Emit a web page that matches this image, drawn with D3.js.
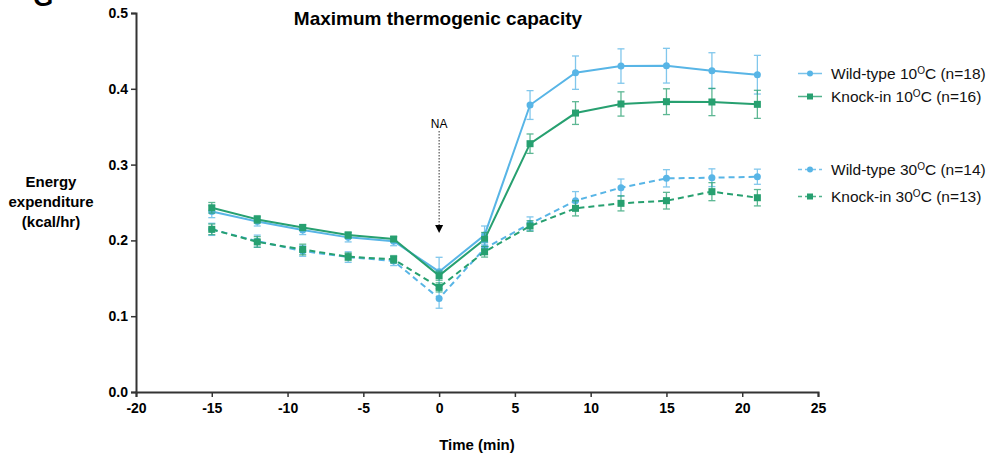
<!DOCTYPE html>
<html>
<head>
<meta charset="utf-8">
<script src="https://cdn.jsdelivr.net/npm/d3@7"></script>
<style>
  body { margin: 0; background: #fff; }
  svg text { font-family: "Liberation Sans", Arial, sans-serif; }
</style>
</head>
<body>
<svg id="chart" width="989" height="460"></svg>
<script>
// time points (min)
const times = [-15, -12, -9, -6, -3, 0, 3, 6, 9, 12, 15, 18, 21];

// mean energy expenditure (kcal/hr)
const wt10 = [0.238, 0.225, 0.2137, 0.204, 0.199, 0.1587, 0.207, 0.3786, 0.4213, 0.430, 0.4305, 0.4239, 0.4186];
const ki10 = [0.243, 0.2277, 0.217, 0.207, 0.2018, 0.1535, 0.2014, 0.3276, 0.368, 0.380, 0.383, 0.3826, 0.3795];
const wt30 = [0.2146, 0.199, 0.186, 0.178, 0.1728, 0.1235, 0.1895, 0.222, 0.2524, 0.2696, 0.2819, 0.2827, 0.284];
const ki30 = [0.2146, 0.198, 0.188, 0.1785, 0.175, 0.138, 0.185, 0.219, 0.2423, 0.2489, 0.2524, 0.2643, 0.2563];

// SEM
const wt10Err = [0.008, 0.006, 0.006, 0.006, 0.006, 0.019, 0.012, 0.019, 0.022, 0.0227, 0.0229, 0.0237, 0.0255];
const ki10Err = [0.007, 0.005, 0.004, 0.004, 0.003, 0.006, 0.009, 0.0128, 0.015, 0.016, 0.017, 0.018, 0.0185];
const wt30Err = [0.008, 0.008, 0.007, 0.007, 0.006, 0.013, 0.008, 0.009, 0.012, 0.0114, 0.0114, 0.0117, 0.010];
const ki30Err = [0.007, 0.007, 0.007, 0.005, 0.005, 0.006, 0.007, 0.007, 0.010, 0.010, 0.011, 0.0119, 0.0108];

const xTicks = [-20, -15, -10, -5, 0, 5, 10, 15, 20, 25];
const yTicks = [0.0, 0.1, 0.2, 0.3, 0.4, 0.5];

const blue = "#58b5e6";
const green = "#27a070";

const series = [
  { name: "Wild-type 10", n: 18, values: wt10, err: wt10Err, color: blue, shape: "circle", dashed: false },
  { name: "Knock-in 10", n: 16, values: ki10, err: ki10Err, color: green, shape: "square", dashed: false },
  { name: "Wild-type 30", n: 14, values: wt30, err: wt30Err, color: blue, shape: "circle", dashed: true },
  { name: "Knock-in 30", n: 13, values: ki30, err: ki30Err, color: green, shape: "square", dashed: true }
];

const svg = d3.select("#chart");
const margin = { top: 13, right: 171, bottom: 68, left: 136 };
const width = 989 - margin.left - margin.right;
const height = 460 - margin.top - margin.bottom;

const x = d3.scaleLinear().domain([-20, 25]).range([0, width]);
const y = d3.scaleLinear().domain([0, 0.5]).range([height, 0]);

const g = svg.append("g").attr("transform", `translate(${margin.left},${margin.top})`);

// partial panel letter, cut off at the top like in the figure
svg.append("text")
  .attr("x", 33).attr("y", 6)
  .attr("font-size", 26).attr("font-weight", "bold")
  .text("G");

// title
svg.append("text")
  .attr("x", 438).attr("y", 25)
  .attr("text-anchor", "middle")
  .attr("font-size", 19).attr("font-weight", "bold")
  .text("Maximum thermogenic capacity");

// axes
const xAxis = g.append("g")
  .attr("transform", `translate(0,${height})`)
  .call(d3.axisBottom(x).tickValues(xTicks).tickSize(5).tickPadding(6).tickFormat(d => String(d)));
const yAxis = g.append("g")
  .call(d3.axisLeft(y).tickValues(yTicks).tickSize(5).tickPadding(3).tickFormat(d => d.toFixed(1)));

[xAxis, yAxis].forEach(a => {
  a.select(".domain").attr("stroke", "#333").attr("stroke-width", 2);
  a.selectAll(".tick line").attr("stroke", "#333").attr("stroke-width", 1.5);
  a.selectAll(".tick text")
    .attr("fill", "#000")
    .attr("font-size", 14)
    .attr("font-weight", "bold")
    .attr("font-family", "Liberation Sans, Arial, sans-serif");
});

// axis titles
svg.append("text")
  .attr("x", 477).attr("y", 450)
  .attr("text-anchor", "middle")
  .attr("font-size", 15).attr("font-weight", "bold")
  .text("Time (min)");

const yLab = svg.append("text")
  .attr("text-anchor", "middle")
  .attr("font-size", 15).attr("font-weight", "bold");
["Energy", "expenditure", "(kcal/hr)"].forEach((t, i) => {
  yLab.append("tspan").attr("x", 51).attr("y", 187 + i * 20).text(t);
});

// NA arrow
g.append("text")
  .attr("x", x(0)).attr("y", 128 - margin.top)
  .attr("text-anchor", "middle")
  .attr("font-size", 12)
  .text("NA");
g.append("line")
  .attr("x1", x(0)).attr("x2", x(0))
  .attr("y1", 131 - margin.top).attr("y2", 226 - margin.top)
  .attr("stroke", "#333").attr("stroke-width", 1)
  .attr("stroke-dasharray", "1.5,1.5");
g.append("path")
  .attr("d", `M${x(0) - 4},${225 - margin.top} L${x(0) + 4},${225 - margin.top} L${x(0)},${233 - margin.top} Z`)
  .attr("fill", "#000");

const line = d3.line()
  .x((d, i) => x(times[i]))
  .y(d => y(d));

function drawMarker(sel, s, cx, cy, size) {
  if (s.shape === "circle") {
    sel.append("circle").attr("cx", cx).attr("cy", cy).attr("r", size / 2).attr("fill", s.color);
  } else {
    sel.append("rect")
      .attr("x", cx - size / 2).attr("y", cy - size / 2)
      .attr("width", size).attr("height", size)
      .attr("fill", s.color);
  }
}

series.forEach(s => {
  const sg = g.append("g");
  // error bars
  s.values.forEach((v, i) => {
    const cx = x(times[i]);
    const lo = y(v - s.err[i]), hi = y(v + s.err[i]);
    const eb = sg.append("g").attr("stroke", s.color).attr("stroke-width", 1.3).attr("opacity", 0.75);
    eb.append("line").attr("x1", cx).attr("x2", cx).attr("y1", lo).attr("y2", hi);
    eb.append("line").attr("x1", cx - 3.5).attr("x2", cx + 3.5).attr("y1", lo).attr("y2", lo);
    eb.append("line").attr("x1", cx - 3.5).attr("x2", cx + 3.5).attr("y1", hi).attr("y2", hi);
  });
  sg.append("path")
    .datum(s.values)
    .attr("d", line)
    .attr("fill", "none")
    .attr("stroke", s.color)
    .attr("stroke-width", 2)
    .attr("stroke-dasharray", s.dashed ? "6,4" : null);
  s.values.forEach((v, i) => drawMarker(sg, s, x(times[i]), y(v), 7));
});

// legend
const legendY = [73.5, 96.5, 169.5, 196.5];
series.forEach((s, i) => {
  const lg = svg.append("g").attr("transform", `translate(798,${legendY[i]})`);
  lg.append("line")
    .attr("x1", 0).attr("x2", 24).attr("y1", 0).attr("y2", 0)
    .attr("stroke", s.color).attr("stroke-width", 1.5).attr("opacity", 0.8)
    .attr("stroke-dasharray", s.dashed ? "4,3" : null);
  drawMarker(lg, s, 12, 0, 6);
  const t = lg.append("text")
    .attr("x", 33).attr("y", 5.5)
    .attr("font-size", 15.5)
    .attr("fill", "#111");
  t.append("tspan").text(s.name);
  t.append("tspan").attr("font-size", 10).attr("dy", -5).text("O");
  t.append("tspan").attr("dy", 5).text(`C (n=${s.n})`);
});
</script>
</body>
</html>
